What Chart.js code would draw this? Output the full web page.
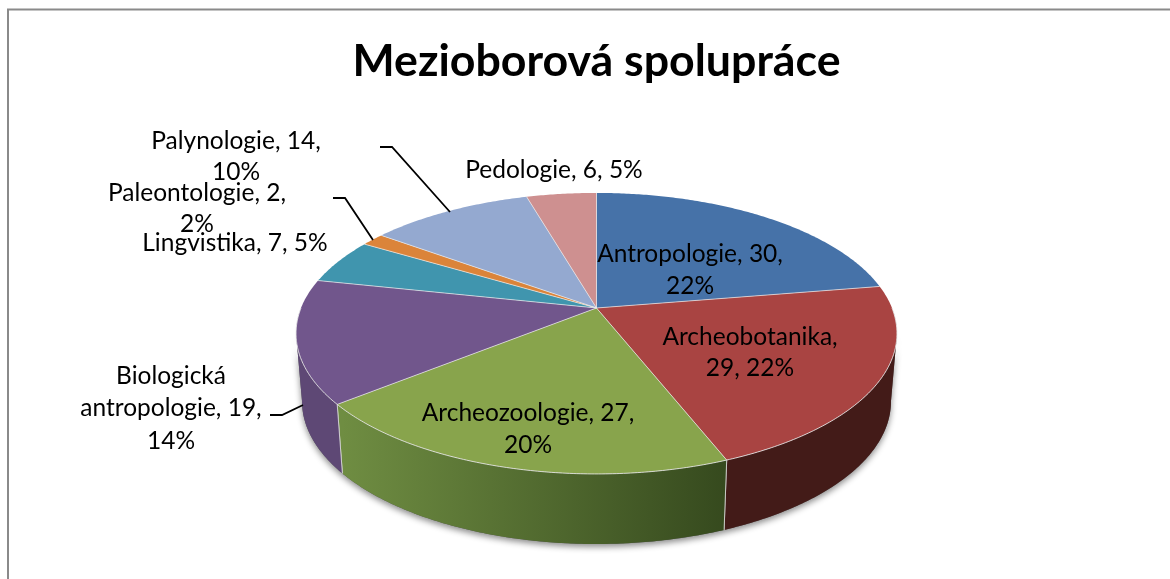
<!DOCTYPE html>
<html><head><meta charset="utf-8">
<style>html,body{margin:0;padding:0;background:#fff}canvas{display:block}</style>
<script src="https://cdn.jsdelivr.net/npm/chart.js@4"></script>
</head><body>
<canvas id="c" width="1170" height="579"></canvas>
<script>
const titleText = "Mezioborová spolupráce";
const categories = ["Antropologie","Archeobotanika","Archeozoologie","Biologická antropologie","Lingvistika","Paleontologie","Palynologie","Pedologie"];
const values = [30,29,27,19,7,2,14,6];
const percents = [22,22,20,14,5,2,10,5];
const topColors = ["#4672a8","#a94442","#88a44c","#71568c","#4095ae","#db843a","#94a9d0","#ce9090"];
const wallFrom = ["#2f4d72","#431b18","#6f8d42","#5e4875","#2f6f82","#a5622a","#6f7f9c","#9a6b6b"];
const wallTo   = ["#2f4d72","#431b18","#364a1e","#5e4875","#2f6f82","#a5622a","#6f7f9c","#9a6b6b"];

// label layout: centre x, first-line centre y, words per line
const labelLayout = [
 {x:690,y:254,lh:32,w:[2,1]},
 {x:750,y:337,lh:31,w:[1,2]},
 {x:528,y:413,lh:32,w:[2,1]},
 {x:171,y:376,lh:32.5,w:[1,2,1]},
 {x:235,y:243,lh:31,w:[3]},
 {x:197,y:193,lh:31,w:[2,1]},
 {x:236,y:141,lh:31,w:[2,1]},
 {x:554,y:170,lh:31,w:[3]}
];
const leaders = [
 [[380,147],[392,147],[450,212]],
 [[333,198],[345,198],[373,240]],
 [[270,415],[282,415],[303,405]]
];
// perspective projection of the pie disc
const CX = 596.5, K = 0.181;
const topFace = {a:295.5, b:135.9, cy:308};
const botFace = {a:289.6, b:138, cy:375.5};
function proj(f,t){
  const X=Math.cos(t),Y=Math.sin(t),w=1-K*Y;
  return [CX+f.a*X/w, f.cy+f.b*Y/w];
}
function rim(ctx,f,t0,t1,first){
  const n=Math.max(2,Math.ceil(Math.abs(t1-t0)/0.01));
  for(let i=0;i<=n;i++){
    const p=proj(f,t0+(t1-t0)*i/n);
    if(i===0&&first) ctx.moveTo(p[0],p[1]); else ctx.lineTo(p[0],p[1]);
  }
}
const WL = Math.asin(K), WR = Math.PI-Math.asin(K);

const pie3d = {
  id:"pie3d",
  beforeDatasetDraw(){ return false; },
  beforeDatasetsDraw(chart){
    const ctx=chart.ctx, arcs=chart.getDatasetMeta(0).data;
    // shadow under the drum
    ctx.save();
    ctx.shadowColor="rgba(0,0,0,0.45)"; ctx.shadowBlur=6; ctx.shadowOffsetY=3;
    ctx.fillStyle="#555";
    ctx.beginPath(); rim(ctx,botFace,WL,WR,true); rim(ctx,topFace,WR,WL,false); ctx.closePath(); ctx.fill();
    ctx.restore();
    // walls
    arcs.forEach((a,i)=>{
      let s=a.startAngle,e=a.endAngle;
      [[s,e],[s-2*Math.PI,e-2*Math.PI]].forEach(([u,v])=>{
        const t0=Math.max(u,WL),t1=Math.min(v,WR);
        if(t1<=t0) return;
        const pa=proj(botFace,t0),pb=proj(botFace,t1);
        const g=ctx.createLinearGradient(Math.min(pa[0],pb[0]),0,Math.max(pa[0],pb[0]),0);
        g.addColorStop(0,wallFrom[i]);
        g.addColorStop(1,wallTo[i]);
        ctx.fillStyle=g;
        ctx.beginPath(); rim(ctx,topFace,t0,t1,true); rim(ctx,botFace,t1,t0,false); ctx.closePath(); ctx.fill();
        ctx.strokeStyle="rgba(225,225,225,0.75)"; ctx.lineWidth=1;
        [t0,t1].forEach(t=>{
          if(t===WL||t===WR) return;
          const p=proj(topFace,t),q=proj(botFace,t);
          ctx.beginPath();ctx.moveTo(p[0],p[1]);ctx.lineTo(q[0],q[1]);ctx.stroke();
        });
      });
    });
    // top faces
    arcs.forEach((a,i)=>{
      ctx.fillStyle=topColors[i];
      ctx.beginPath(); ctx.moveTo(CX,topFace.cy); rim(ctx,topFace,a.startAngle,a.endAngle,false); ctx.closePath(); ctx.fill();
    });
    // separators & rim highlight
    ctx.strokeStyle="rgba(235,235,235,0.7)"; ctx.lineWidth=1;
    arcs.forEach(a=>{
      const p=proj(topFace,a.startAngle);
      ctx.beginPath();ctx.moveTo(CX,topFace.cy);ctx.lineTo(p[0],p[1]);ctx.stroke();
    });
    ctx.strokeStyle="rgba(230,230,230,0.85)";
    ctx.beginPath(); rim(ctx,topFace,0,Math.PI,true); ctx.stroke();
  },
  afterDatasetsDraw(chart){
    const ctx=chart.ctx;
    ctx.save();
    ctx.strokeStyle="#000"; ctx.lineWidth=1.8;
    leaders.forEach(l=>{ctx.beginPath();l.forEach((p,i)=>i?ctx.lineTo(p[0],p[1]):ctx.moveTo(p[0],p[1]));ctx.stroke();});
    ctx.fillStyle="#000"; ctx.font='24.5px Lato'; ctx.textAlign="center"; ctx.textBaseline="middle";
    categories.forEach((c,i)=>{
      const words=`${c}, ${values[i]}, ${percents[i]}%`.split(" ");
      const L=labelLayout[i]; let k=0;
      L.w.forEach((n,j)=>{
        ctx.fillText(words.slice(k,k+n).join(" "),L.x,L.y+j*L.lh); k+=n;
      });
    });
    ctx.restore();
  }
};
const frame = {
  id:"frame",
  beforeDraw(chart){
    const ctx=chart.ctx;
    ctx.save();ctx.fillStyle="#fff";ctx.fillRect(0,0,1170,579);
    ctx.strokeStyle="#8a8a8a";ctx.lineWidth=2;
    ctx.beginPath();ctx.moveTo(8,579);ctx.lineTo(8,9.5);ctx.lineTo(1170,9.5);ctx.stroke();
    ctx.restore();
  }
};
new Chart(document.getElementById("c"),{
  type:"pie",
  data:{labels:categories,datasets:[{data:values,backgroundColor:topColors,borderWidth:0}]},
  plugins:[frame,pie3d],
  options:{
    responsive:false,animation:false,
    layout:{padding:{left:296,right:273,top:0,bottom:30}},
    plugins:{
      legend:{display:false},tooltip:{enabled:false},
      title:{display:true,text:titleText,color:"#000",font:{family:"Lato",size:44.7,weight:"bold"},padding:{top:35,bottom:10}}
    }
  }
});
</script>
</body></html>
